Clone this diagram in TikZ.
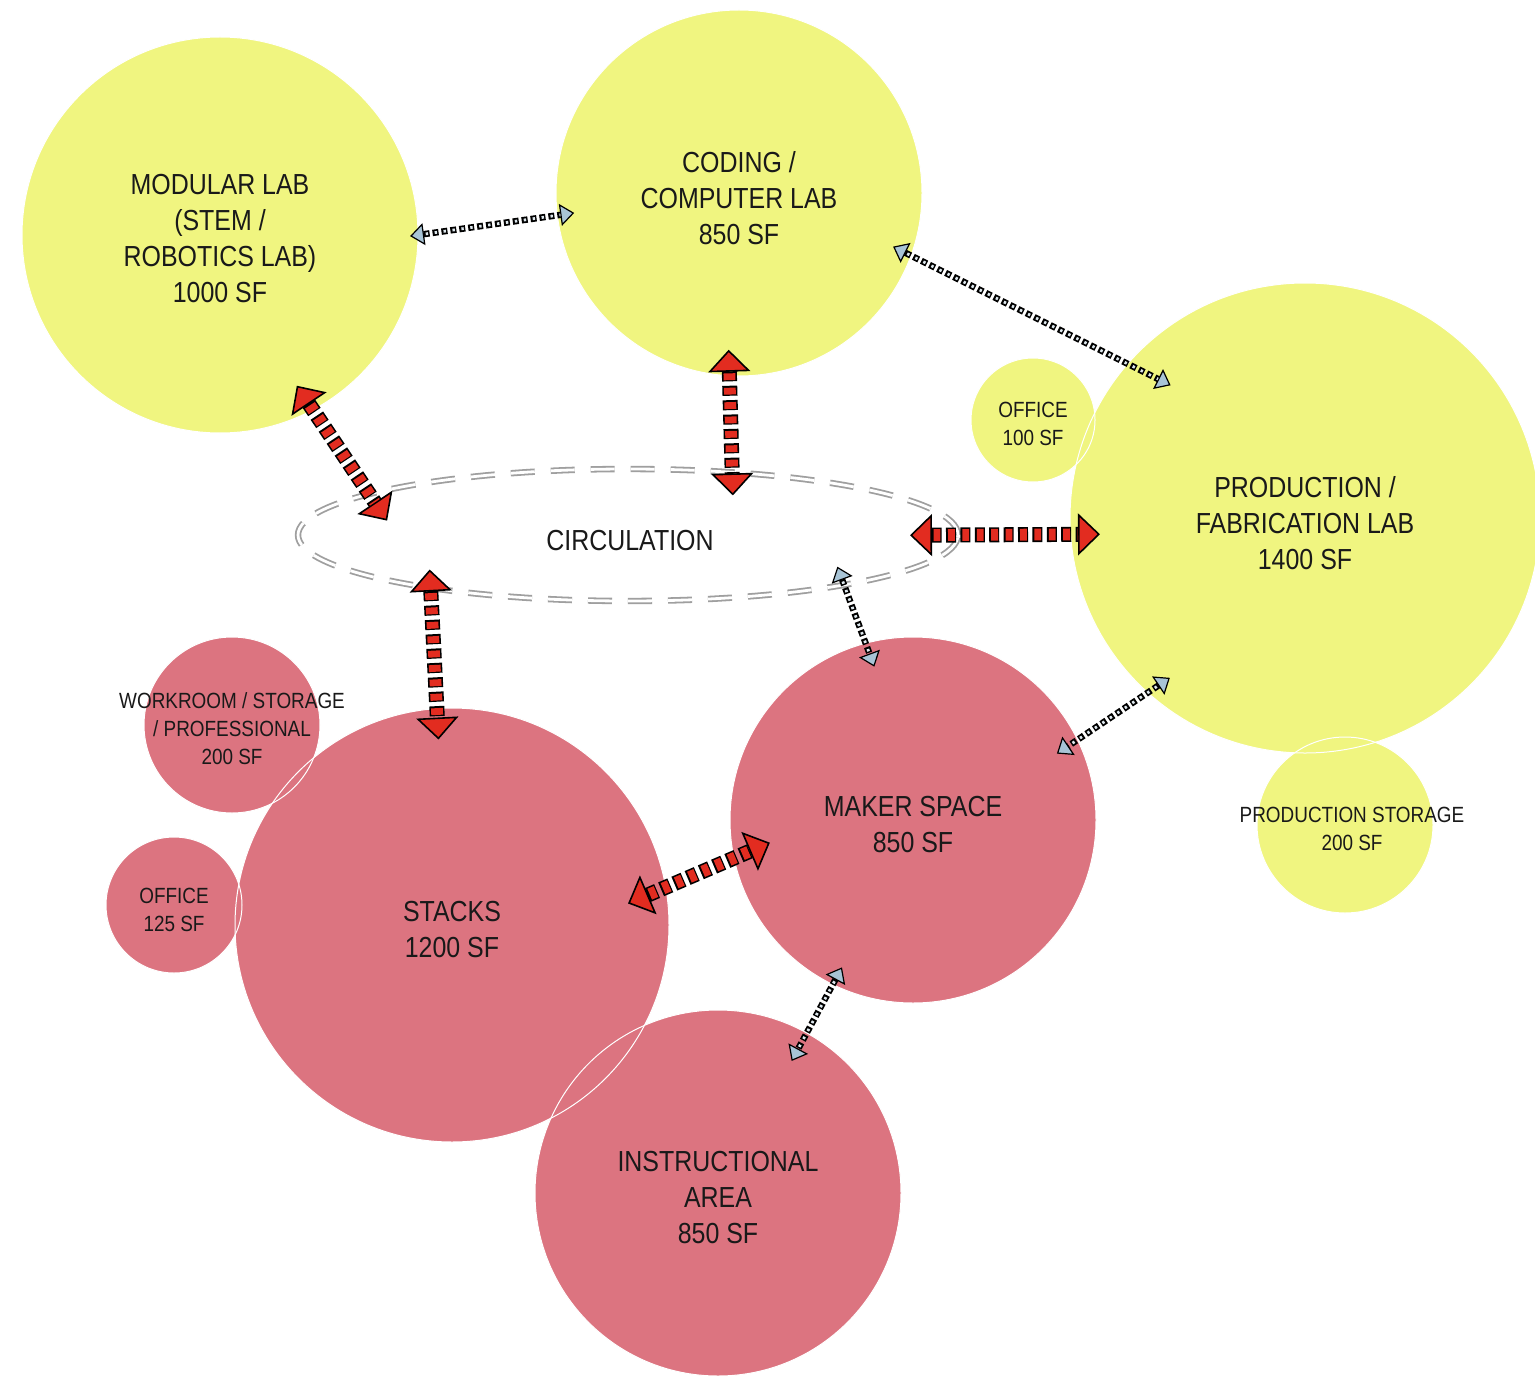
\documentclass[tikz,border=0pt]{standalone}
\usepackage{fontspec}
\setmainfont{Liberation Sans}[FakeStretch=0.86]
\usetikzlibrary{shapes.geometric, arrows.meta, calc}
\definecolor{labyellow}{RGB}{240,245,128}
\definecolor{roompink}{RGB}{220,116,128}
\definecolor{linkred}{RGB}{226,44,32}
\definecolor{linkblue}{RGB}{168,196,214}
\definecolor{corepale}{RGB}{222,232,238}

\begin{document}
\begin{tikzpicture}[x=0.5pt, y=-0.5pt,
	room/.style={circle, inner sep=0pt, outer sep=0pt},
	yellowroom/.style={room, fill=labyellow},
	pinkroom/.style={room, fill=roompink},
	bigtext/.style={font=\fontsize{14.5}{18}\selectfont, align=center, text=black!90},
	smalltext/.style={font=\fontsize{11}{14}\selectfont, align=center, text=black!90},
	rim/.style={draw=white, line width=0.5pt},
	redlink/.style={draw=black, line width=7.5pt, dash pattern=on 5pt off 2.2pt,
		>={Triangle[width=21pt, length=11pt, fill=linkred, color=black, line width=0.8pt]}, <->},
	redcore/.style={draw=linkred, line width=5.9pt, dash pattern=on 3.4pt off 3.8pt, dash phase=6.4pt},
	bluelink/.style={draw=black, line width=3.2pt, dash pattern=on 3pt off 1.5pt,
		>={Triangle[width=11pt, length=7pt, fill=linkblue, color=black, line width=0.6pt]}, <->},
	bluecore/.style={draw=corepale, line width=1.4pt, dash pattern=on 1.2pt off 3.3pt, dash phase=3.6pt}]
	\path[use as bounding box, fill=white] (0,0) rectangle (1535,1375);
	
	% rooms
	\node[yellowroom, minimum size=198pt] (modular) at (220,235) {};
	\node[yellowroom, minimum size=183pt] (coding) at (739,193) {};
	\node[yellowroom, minimum size=235pt] (production) at (1305,518) {};
	\node[yellowroom, minimum size=62pt] (office) at (1033,420) {};
	\node[yellowroom, minimum size=88pt] (storage) at (1345,825) {};
	\node[pinkroom, minimum size=88pt] (workroom) at (232,725) {};
	\node[pinkroom, minimum size=68pt] (officeB) at (174,905) {};
	\node[pinkroom, minimum size=217pt] (stacks) at (452,925) {};
	\node[pinkroom, minimum size=183pt] (maker) at (913,820) {};
	\node[pinkroom, minimum size=183pt] (instr) at (718,1193) {};
	
	\node[ellipse, minimum width=330pt, minimum height=66pt, inner sep=0pt, outer sep=0pt,
		draw=gray!75, double=white, double distance=1.4pt, line width=0.9pt,
		dash pattern=on 12pt off 8pt] (circ) at (628,535) {};
	
	% thin white rims where rooms overlap
	\foreach \room in {modular,coding,production,office,storage,workroom,officeB,stacks,maker,instr}
		\draw[rim] let \p1=($(\room.east)-(\room.center)$) in (\room.center) circle (\x1);
	
	% labels
	\node[bigtext] (modularText) at ($(modular)+(0,4)$) {MODULAR LAB\\(STEM /\\ROBOTICS LAB)\\1000 SF};
	\node[bigtext] (codingText) at ($(coding)+(0,5)$) {CODING /\\COMPUTER LAB\\850 SF};
	\node[bigtext] (productionText) at ($(production)+(0,5)$) {PRODUCTION /\\FABRICATION LAB\\1400 SF};
	\node[smalltext] (officeText) at ($(office)+(0,4)$) {OFFICE\\100 SF};
	\node[smalltext] (storageText) at (1352,829) {PRODUCTION STORAGE\\200 SF};
	\node[smalltext] (workroomText) at (232,729) {WORKROOM / STORAGE\\/ PROFESSIONAL\\200 SF};
	\node[smalltext] (officeBText) at ($(officeB)+(0,5)$) {OFFICE\\125 SF};
	\node[bigtext] (stacksText) at ($(stacks)+(0,5)$) {STACKS\\1200 SF};
	\node[bigtext] (makerText) at ($(maker)+(0,5)$) {MAKER SPACE\\850 SF};
	\node[bigtext] (instrText) at ($(instr)+(0,5)$) {INSTRUCTIONAL\\AREA\\850 SF};
	\node[bigtext] (circText) at ($(circ)+(2,6)$) {CIRCULATION};
	
	% main links
	\foreach \a/\b/\s/\e in {modular.-62.5/circ.171/14.5pt/16pt, coding.267/circ.31/13pt/11.5pt,
			circ.0/production.184/24pt/14.7pt, circ.195.4/stacks.94.8/9.2pt/15.5pt,
			stacks.10.5/maker.192/20.5pt/19.5pt}
	{
		\draw[redlink, shorten <=-\s, shorten >=-\e] (\a) -- (\b);
		\draw[redcore, shorten <=11pt-\s, shorten >=11pt-\e] (\a) -- (\b);
	}
	
	% secondary links
	\foreach \a/\b/\s/\e in {modular.0.6/coding.187/4pt/8.5pt, coding.-20.4/production.139.9/10pt/24pt,
			circ.-13.7/maker.105.8/9.7pt/12.5pt, production.228.9/maker.26.2/13.3pt/12.4pt,
			maker.244.7/instr.61.6/9.7pt/15.9pt}
	{
		\draw[bluelink, shorten <=-\s, shorten >=-\e] (\a) -- (\b);
		\draw[bluecore, shorten <=7pt-\s, shorten >=7pt-\e] (\a) -- (\b);
	}
\end{tikzpicture}
\end{document}
